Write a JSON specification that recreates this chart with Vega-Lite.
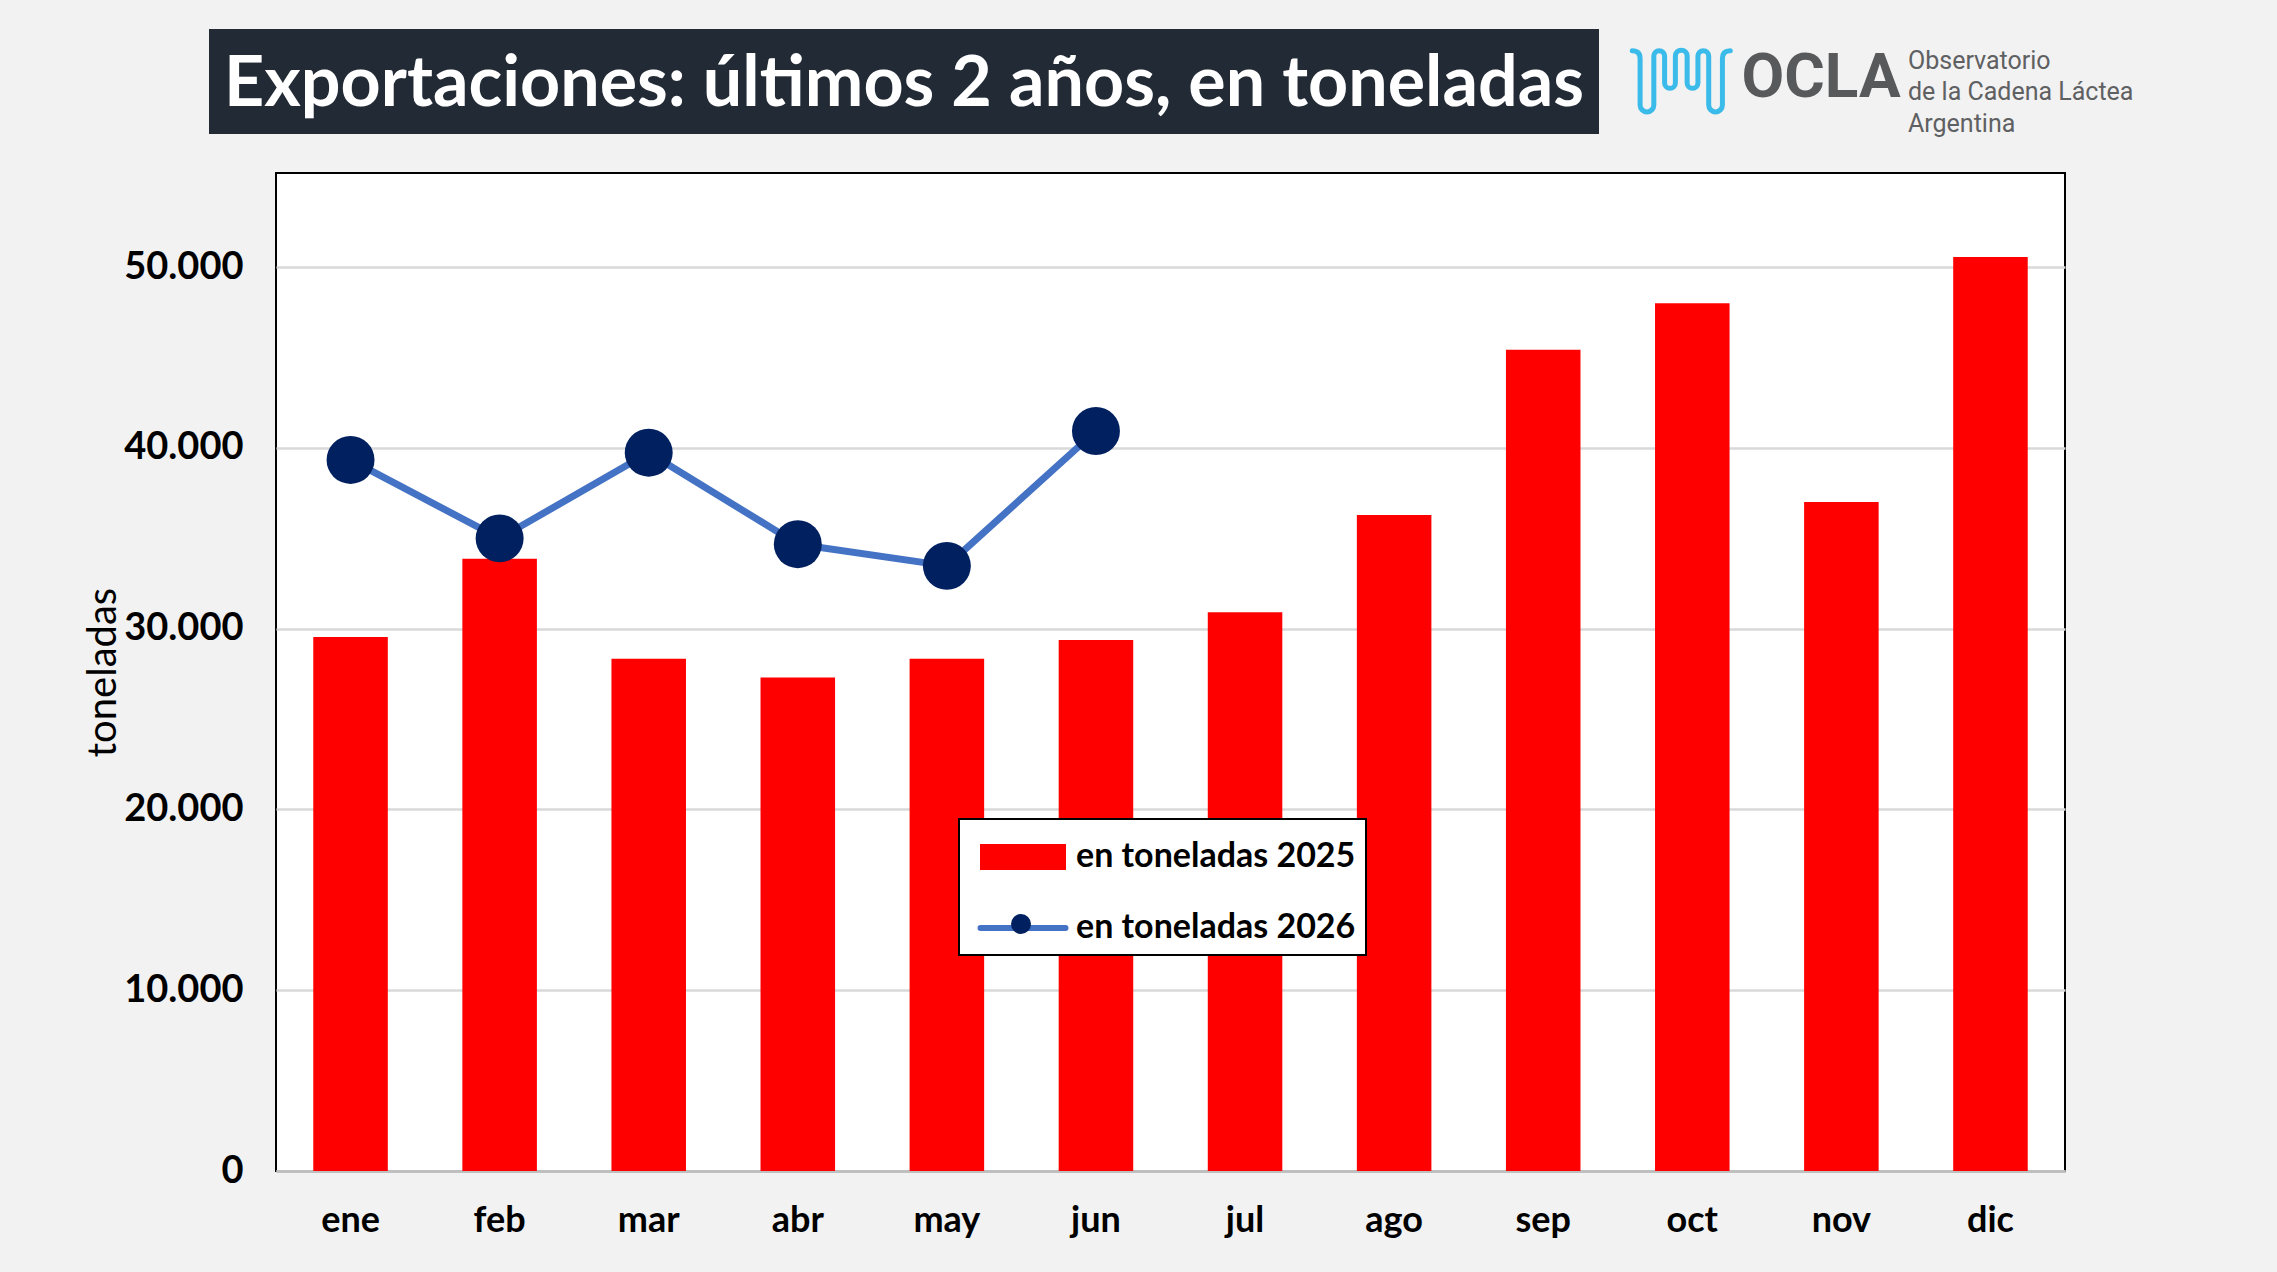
{
  "$schema": "https://vega.github.io/schema/vega-lite/v6.json",
  "background": "#f2f2f2",
  "padding": {"left": 82, "top": 29, "right": 155, "bottom": 34},
  "spacing": 17,
  "resolve": {
    "scale": {"color": "independent", "shape": "independent"},
    "legend": {"color": "independent", "shape": "independent"}
  },
  "config": {"view": {"stroke": null}, "font": "Lato"},
  "datasets": {
    "exp": [
      {"mes": "ene", "anio": 2025, "serie": "en toneladas 2025", "valor": 29530},
      {"mes": "feb", "anio": 2025, "serie": "en toneladas 2025", "valor": 33870},
      {"mes": "mar", "anio": 2025, "serie": "en toneladas 2025", "valor": 28330},
      {"mes": "abr", "anio": 2025, "serie": "en toneladas 2025", "valor": 27290},
      {"mes": "may", "anio": 2025, "serie": "en toneladas 2025", "valor": 28330},
      {"mes": "jun", "anio": 2025, "serie": "en toneladas 2025", "valor": 29370},
      {"mes": "jul", "anio": 2025, "serie": "en toneladas 2025", "valor": 30900},
      {"mes": "ago", "anio": 2025, "serie": "en toneladas 2025", "valor": 36280},
      {"mes": "sep", "anio": 2025, "serie": "en toneladas 2025", "valor": 45420},
      {"mes": "oct", "anio": 2025, "serie": "en toneladas 2025", "valor": 47990},
      {"mes": "nov", "anio": 2025, "serie": "en toneladas 2025", "valor": 37000},
      {"mes": "dic", "anio": 2025, "serie": "en toneladas 2025", "valor": 50560},
      {"mes": "ene", "anio": 2026, "serie": "en toneladas 2026", "valor": 39330},
      {"mes": "feb", "anio": 2026, "serie": "en toneladas 2026", "valor": 34990},
      {"mes": "mar", "anio": 2026, "serie": "en toneladas 2026", "valor": 39730},
      {"mes": "abr", "anio": 2026, "serie": "en toneladas 2026", "valor": 34670},
      {"mes": "may", "anio": 2026, "serie": "en toneladas 2026", "valor": 33470},
      {"mes": "jun", "anio": 2026, "serie": "en toneladas 2026", "valor": 40930}
    ],
    "logo": [
      {"n": 1, "t": "Observatorio"},
      {"n": 2, "t": "de la Cadena Láctea"},
      {"n": 3, "t": "Argentina"}
    ]
  },
  "vconcat": [
    {
      "spacing": 0,
      "hconcat": [
        {
          "width": 1390, "height": 105,
          "view": {"fill": "#222a35"},
          "data": {"values": [{"t": "Exportaciones: últimos 2 años, en toneladas"}]},
          "mark": {"type": "text", "font": "Lato", "fontWeight": "bold", "fontSize": 70, "color": "white", "dy": 3},
          "encoding": {"text": {"field": "t"}}
        },
        {
          "width": 141, "height": 105,
          "data": {"values": [{"t": "icono"}]},
          "mark": {
            "type": "point",
            "shape": "M-0.76,-0.63 Q-0.6,-0.63 -0.6,-0.47 V0.48 A0.14,0.14 0 0 0 -0.32,0.48 V-0.52 A0.11,0.11 0 0 1 -0.1,-0.52 V0.03 A0.11,0.11 0 0 0 0.12,0.03 V-0.52 A0.12,0.12 0 0 1 0.36,-0.52 V0.03 A0.11,0.11 0 0 0 0.58,0.03 V-0.52 A0.11,0.11 0 0 1 0.8,-0.52 V0.48 A0.14,0.14 0 0 0 1.08,0.48 V-0.47 Q1.08,-0.63 1.24,-0.63",
            "size": 9604, "filled": false, "stroke": "#3bbbe9", "strokeWidth": 5, "opacity": 1, "strokeCap": "round"
          },
          "encoding": {}
        },
        {
          "width": 162, "height": 105,
          "data": {"values": [{"t": "OCLA"}]},
          "mark": {"type": "text", "font": "Roboto", "fontWeight": "bold", "fontSize": 62, "color": "#58595b", "dx": -6, "dy": -4},
          "encoding": {"text": {"field": "t"}}
        },
        {
          "width": 220, "height": 126,
          "data": {"name": "logo"},
          "mark": {"type": "text", "align": "left", "font": "Roboto", "fontSize": 25, "color": "#5f6062"},
          "encoding": {
            "x": {"datum": 0, "type": "quantitative", "scale": {"domain": [0, 1]}, "axis": null},
            "y": {"field": "n", "type": "ordinal", "axis": null, "scale": {"type": "point", "padding": 1.1}},
            "text": {"field": "t"}
          }
        }
      ]
    },
    {
      "bounds": "flush",
      "spacing": 0,
      "resolve": {
        "scale": {"color": "independent", "shape": "independent"},
        "legend": {"color": "independent", "shape": "independent"}
      },
      "hconcat": [
        {
          "width": 67, "height": 998,
          "data": {"values": [{"t": ""}]},
          "mark": {"type": "text"},
          "encoding": {"text": {"field": "t"}}
        },
        {
          "width": 1789, "height": 998,
          "view": {"stroke": "black", "strokeWidth": 2, "fill": "white"},
          "data": {"name": "exp"},
          "encoding": {
            "x": {
              "field": "mes", "type": "nominal",
              "sort": ["ene", "feb", "mar", "abr", "may", "jun", "jul", "ago", "sep", "oct", "nov", "dic"],
              "scale": {"paddingInner": 0.5, "paddingOuter": 0.25},
              "axis": {"title": null, "labelAngle": 0, "labelFont": "Lato", "labelFontWeight": "bold", "labelFontSize": 36, "labelColor": "black", "labelPadding": 32, "ticks": false, "domainColor": "#bfbfbf", "domainWidth": 3, "grid": false}
            }
          },
          "layer": [
            {
              "transform": [{"filter": "datum.anio == 2025"}],
              "mark": {"type": "bar"},
              "encoding": {
                "y": {
                  "field": "valor", "type": "quantitative",
                  "scale": {"domain": [0, 55200], "nice": false},
                  "axis": {
                    "values": [0, 10000, 20000, 30000, 40000, 50000],
                    "labelExpr": "replace(format(datum.value, ','), ',', '.')",
                    "labelFont": "Lato", "labelFontWeight": "bold", "labelFontSize": 38, "labelColor": "black", "labelPadding": 33,
                    "ticks": false, "domain": false, "gridColor": "#d9d9d9", "gridWidth": 2.5,
                    "title": "toneladas", "titleFont": "Lato", "titleFontWeight": "normal", "titleFontSize": 40, "titleColor": "black", "titlePadding": 0
                  }
                },
                "color": {
                  "field": "serie", "type": "nominal",
                  "scale": {"domain": ["en toneladas 2025", "en toneladas 2026"], "range": ["#ff0000", "#4472c4"]},
                  "legend": {
                    "orient": "none", "legendX": 683, "legendY": 646, "title": null,
                    "fillColor": "white", "strokeColor": "black", "padding": 10,
                    "symbolOffset": 26, "labelOffset": 25, "rowPadding": 21, "symbolSize": 2500, "labelLimit": 500,
                    "labelFont": "Lato", "labelFontWeight": "bold", "labelFontSize": 34, "labelColor": "black",
                    "encode": {
                      "legend": {"update": {"strokeWidth": {"value": 2}}},
                      "symbols": {"update": {
                        "shape": {"signal": "datum.value === 'en toneladas 2025' ? 'M-1.6,-0.4H1.6V0.4H-1.6Z' : 'M-1.7,0H1.7'"},
                        "fill": {"signal": "datum.value === 'en toneladas 2025' ? '#ff0000' : 'transparent'"},
                        "stroke": {"signal": "datum.value === 'en toneladas 2025' ? 'transparent' : '#4472c4'"},
                        "strokeWidth": {"value": 6},
                        "strokeCap": {"value": "round"},
                        "size": {"value": 2500},
                        "opacity": {"value": 1}
                      }}
                    }
                  }
                }
              }
            },
            {
              "transform": [{"filter": "datum.anio == 2026"}],
              "mark": {"type": "line", "strokeWidth": 7, "strokeJoin": "round"},
              "encoding": {
                "y": {"field": "valor", "type": "quantitative"},
                "color": {"field": "serie", "type": "nominal"}
              }
            },
            {
              "transform": [{"filter": "datum.anio == 2026"}],
              "mark": {"type": "point", "filled": true, "size": 2300, "color": "#002060", "opacity": 1},
              "encoding": {
                "y": {"field": "valor", "type": "quantitative"},
                "shape": {
                  "field": "anio", "type": "nominal",
                  "scale": {"range": ["circle"]},
                  "legend": {
                    "orient": "none", "legendX": 734, "legendY": 740, "title": null,
                    "padding": 0, "symbolSize": 400, "labelExpr": "''", "labelFontSize": 1,
                    "encode": {"symbols": {"update": {"fill": {"value": "#002060"}, "stroke": {"value": "transparent"}, "size": {"value": 400}, "opacity": {"value": 1}}}}
                  }
                }
              }
            }
          ]
        }
      ]
    }
  ]
}
